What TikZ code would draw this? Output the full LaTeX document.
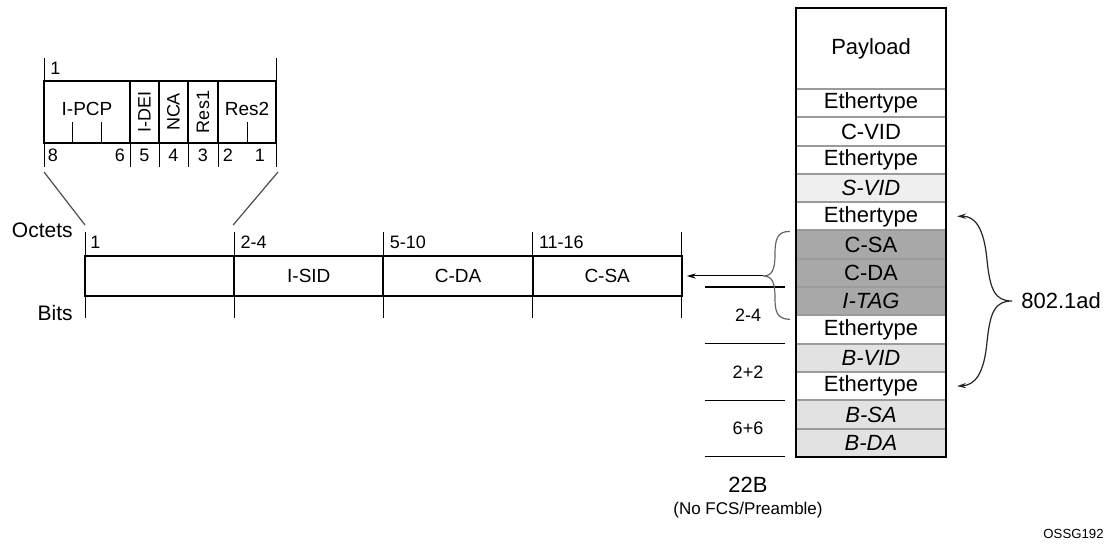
\documentclass[tikz,border=0pt]{standalone}
\usepackage{fontspec}
\setmainfont{Liberation Sans}
\usetikzlibrary{arrows.meta,positioning,calc}
\definecolor{sepgray}{HTML}{9A9A9A}
\definecolor{palefill}{HTML}{EFEFEF}
\definecolor{lightfill}{HTML}{E2E2E2}
\definecolor{darkfill}{HTML}{A8A8A8}

\begin{document}
\begin{tikzpicture}[
    x=0.5pt, y=-0.5pt,
    row/.style={
        draw=sepgray,
        line width=1pt,
        fill=white,
        minimum width=75pt,
        minimum height=14.15pt,
        inner sep=0pt,
        outer sep=0pt,
        font=\fontsize{11}{13}\selectfont
    },
    tag/.style={font=\fontsize{11}{13}\selectfont\itshape},
    field/.style={
        draw,
        line width=1pt,
        minimum width=74.6pt,
        minimum height=20pt,
        inner sep=0pt,
        outer sep=0pt,
        font=\fontsize{9.5}{11}\selectfont
    },
    bitbox/.style={
        draw,
        line width=1pt,
        minimum height=31pt,
        inner sep=0pt,
        outer sep=0pt,
        font=\fontsize{9.5}{11}\selectfont
    },
    num/.style={inner sep=0pt, font=\fontsize{9}{11}\selectfont},
    big/.style={inner sep=0pt, font=\fontsize{10.5}{12}\selectfont},
    tick/.style={line width=0.5pt},
    diag/.style={line width=0.6pt, black!70},
    brace/.style={line width=0.6pt, black!60},
    line/.style={-{Stealth[length=4.5pt,width=2.6pt]}, line width=0.5pt}
]
\useasboundingbox (0,0) rectangle (1107,544);

% ---- Frame column ----
\node[row, minimum height=40.5pt] (payload) at (871,48.5) {\raisebox{-1.5pt}{Payload}};
\node[row, below=0pt of payload] (eth1) {Ethertype};
\node[row, below=0pt of eth1] (cvid) {C-VID};
\node[row, below=0pt of cvid] (eth2) {Ethertype};
\node[row, tag, fill=palefill, below=0pt of eth2] (svid) {S-VID};
\node[row, below=0pt of svid] (eth3) {Ethertype};
\node[row, fill=darkfill, below=0pt of eth3] (csa) {C-SA};
\node[row, fill=darkfill, below=0pt of csa] (cda) {C-DA};
\node[row, tag, fill=darkfill, below=0pt of cda] (itag) {I-TAG};
\node[row, below=0pt of itag] (eth4) {Ethertype};
\node[row, tag, fill=lightfill, below=0pt of eth4] (bvid) {B-VID};
\node[row, below=0pt of bvid] (eth5) {Ethertype};
\node[row, tag, fill=lightfill, below=0pt of eth5] (bsa) {B-SA};
\node[row, tag, fill=lightfill, below=0pt of bsa] (bda) {B-DA};
\draw[line width=1.2pt] (payload.north west) rectangle (bda.south east);

% ---- Sizes ----
\foreach \n in {cda,eth4,eth5,bda}
    \draw[line width=0.6pt] ($(\n.south west)+(-91,0)$) -- ++(80,0);
\node[num] (sz1) at ($(itag.south west)+(-48,0)$) {2-4};
\node[num] (sz2) at ($(bvid.south west)+(-48,0)$) {2+2};
\node[num] (sz3) at ($(bsa.south west)+(-48,0)$) {6+6};
\node[inner sep=0pt, font=\fontsize{11}{13}\selectfont] (total) at ($(bda.south west)+(-48,28)$) {22B};
\node[inner sep=0pt, font=\fontsize{8.5}{10}\selectfont] (note) at ($(bda.south west)+(-48,53)$) {(No FCS/Preamble)};

% ---- I-TAG fields ----
\node[field] (oct1) at (159.6,276) {};
\node[field, right=0pt of oct1] (isid) {I-SID};
\node[field, right=0pt of isid] (cda2) {C-DA};
\node[field, right=0pt of cda2] (csa2) {C-SA};
\foreach \n in {oct1,isid,cda2,csa2}
    \draw[tick] ($(\n.north west)+(0,-24)$) -- ($(\n.south west)+(0,22)$);
\draw[tick] ($(csa2.north east)+(0,-24)$) -- ($(csa2.south east)+(0,22)$);
\node[num, anchor=west] (o1) at ($(oct1.north west)+(5,-14)$) {1};
\node[num, anchor=west] (o2) at ($(isid.north west)+(6,-14)$) {2-4};
\node[num, anchor=west] (o3) at ($(cda2.north west)+(6,-14)$) {5-10};
\node[num, anchor=west] (o4) at ($(csa2.north west)+(6,-14)$) {11-16};
\node[big, anchor=east] (octets) at ($(oct1.north west)+(-12,-26)$) {Octets};
\node[big, anchor=east] (bits) at ($(oct1.south west)+(-12,17)$) {Bits};

% ---- First octet bits ----
\node[bitbox, minimum width=43pt] (ipcp) at (87,112) {\raisebox{3.5pt}{I-PCP}};
\node[bitbox, minimum width=14.5pt, right=0pt of ipcp] (idei) {};
\node[bitbox, minimum width=14.5pt, right=0pt of idei] (nca) {};
\node[bitbox, minimum width=15pt, right=0pt of nca] (res1) {};
\node[bitbox, minimum width=29pt, right=0pt of res1] (res2) {\raisebox{3.5pt}{Res2}};
\node[num, rotate=90] (ideil) at (idei) {I-DEI};
\node[num, rotate=90] (ncal) at (nca) {NCA};
\node[num, rotate=90] (res1l) at (res1) {Res1};

\draw[tick] (ipcp.north west) -- ++(0,-23);
\draw[tick] (res2.north east) -- ++(0,-23);
\foreach \n in {ipcp,idei,nca,res1,res2}
    \draw[tick] (\n.south west) -- ++(0,24);
\draw[tick] (res2.south east) -- ++(0,24);
\draw[tick] ($(ipcp.south west)!1/3!(ipcp.south east)$) -- ++(0,-21);
\draw[tick] ($(ipcp.south west)!2/3!(ipcp.south east)$) -- ++(0,-21);
\draw[tick] (res2.south) -- ++(0,-21);

\node[num, anchor=west] (t1) at ($(ipcp.north west)+(6,-13)$) {1};
\node[num] (b8) at ($(ipcp.south west)+(9,12)$) {8};
\node[num] (b6) at ($(ipcp.south east)+(-10,12)$) {6};
\node[num] (b5) at ($(idei.south)+(0,12)$) {5};
\node[num] (b4) at ($(nca.south)+(0,12)$) {4};
\node[num] (b3) at ($(res1.south)+(0,12)$) {3};
\node[num] (b2) at ($(res2.south west)+(10,12)$) {2};
\node[num] (b1) at ($(res2.south east)+(-16,12)$) {1};

\draw[diag] ($(ipcp.south west)+(0,29)$) -- ($(oct1.north west)+(0,-31)$);
\draw[diag] ($(res2.south east)+(2,29)$) -- ($(isid.north west)+(-1,-31)$);

% ---- Braces ----
\coordinate (lbtip) at (763,276);
\draw[brace] ($(csa.north west)+(-6,1)$) .. controls (777,231) and (775,240) .. (775,254)
    .. controls (775,270) and (772,276) .. (lbtip)
    .. controls (772,276) and (775,282) .. (775,298)
    .. controls (775,312) and (777,319) .. ($(itag.south west)+(-6,4)$);
\draw[line] (lbtip) -- ([xshift=2.5pt]csa2.east);

\coordinate (rbtip) at (1012,301);
\draw[brace, black!85, {Stealth[length=4.5pt,width=2.6pt]}-{Stealth[length=4.5pt,width=2.6pt]}]
    ($(eth3.east)+(11,0)$) .. controls (975,216) and (984,228) .. (987,260)
    .. controls (990,290) and (995,301) .. (rbtip)
    .. controls (995,301) and (990,312) .. (987,342)
    .. controls (984,374) and (975,385) .. ($(eth5.east)+(11,0)$);
\node[inner sep=0pt, anchor=west, font=\fontsize{11}{13}\selectfont] (std) at ($(rbtip)+(9,0)$) {802.1ad};

\node[inner sep=0pt, anchor=east, font=\fontsize{6.6}{8}\selectfont] (fig) at (1104,534) {OSSG192};

\end{tikzpicture}
\end{document}
